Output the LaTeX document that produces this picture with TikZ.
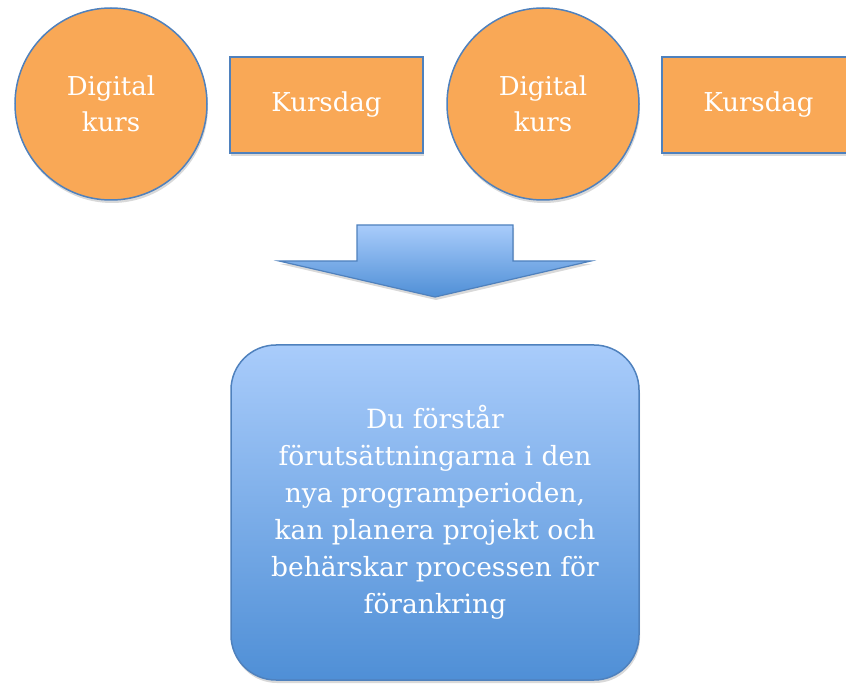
\documentclass[tikz,border=0pt]{standalone}
\usepackage{fontspec}
\setmainfont{DejaVu Serif}
\usetikzlibrary{positioning,shadows}

\definecolor{kursorange}{HTML}{F9A856}
\definecolor{kursline}{HTML}{4F81BD}
\definecolor{bluetop}{HTML}{A9CCFB}
\definecolor{bluebot}{HTML}{4F8FD6}

\begin{document}
\begin{tikzpicture}[x=1pt,y=-1pt,
    kurs/.style={circle,draw=kursline,line width=1.5pt,fill=kursorange,minimum size=192pt,inner sep=0pt,
        align=center,text=white,font=\fontsize{26}{36}\selectfont,
        drop shadow={opacity=0.3,shadow xshift=1pt,shadow yshift=-3pt}},
    dag/.style={rectangle,draw=kursline,line width=1.5pt,fill=kursorange,minimum width=193pt,minimum height=96pt,
        text=white,font=\fontsize{26}{36}\selectfont,
        drop shadow={opacity=0.3,shadow xshift=1pt,shadow yshift=-3pt}},
    goal/.style={rectangle,rounded corners=45pt,draw=kursline,line width=1.5pt,top color=bluetop,bottom color=bluebot,
        minimum width=408pt,minimum height=335pt,align=center,text=white,font=\fontsize{26.5}{37}\selectfont,
        drop shadow={opacity=0.3,shadow xshift=1pt,shadow yshift=-3pt}}]
    \useasboundingbox (0,0) rectangle (846,684);
    \clip (0,0) rectangle (846,684);

    % Top row
    \node[kurs] (dig1) at (111,104) {Digital\\kurs};
    \node[dag] (dag1) at (326.5,105) {Kursdag};
    \node[kurs] (dig2) at (543,104) {Digital\\kurs};
    \node[dag] (dag2) at (758.5,105) {Kursdag};

    % Block arrow
    \path[draw=kursline,line width=1.2pt,top color=bluetop,bottom color=bluebot,
        drop shadow={opacity=0.3,shadow xshift=1pt,shadow yshift=-3pt}]
        (357,225) -- (513,225) -- (513,261) -- (591,261) -- (435,297) -- (279,261) -- (357,261) -- cycle;

    % Result
    \node[goal] (goal) at (435,512.5) {Du förstår\\förutsättningarna i den\\nya programperioden,\\kan planera projekt och\\behärskar processen för\\förankring};
\end{tikzpicture}
\end{document}
